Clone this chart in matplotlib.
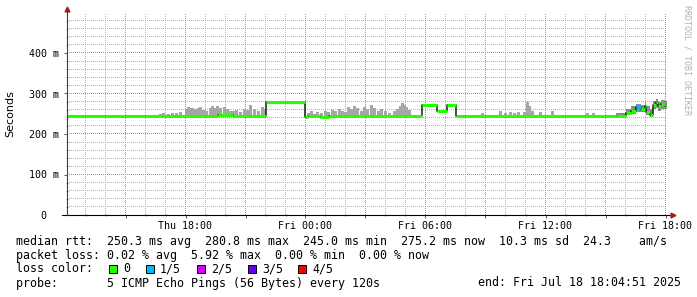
import numpy as np
import matplotlib
matplotlib.use("Agg")
import matplotlib.pyplot as plt
from matplotlib.patches import Rectangle

# time axis in hours counted from Thu 00:00, graph ends Fri 18:04:51
t_start = 12.075
t_end = 42.075

# median rtt (ms) as steps, each value holds until the next time
med_t = [12.075, 19.65, 20.4, 22.0, 24.0, 24.1, 24.75, 25.2, 29.85, 30.6, 31.1, 31.55,
         39.55, 40.0, 40.25, 40.5, 40.75, 40.95, 41.05, 41.2, 41.35, 41.5, 41.65, 41.8, 41.95]
med_v = [244, 247, 244, 278, 241, 244, 242, 244, 271, 257, 271, 244,
         245, 252, 258, 266, 262, 270, 255, 248, 272, 278, 268, 275, 270]
# lost pings (out of 5) for each step
med_loss = [0, 0, 0, 0, 0, 0, 0, 0, 0, 0, 0, 0,
            0, 0, 0, 1, 0, 0, 0, 0, 0, 0, 0, 0, 0]

# smoke spikes: hour and top of the smoke in ms
smoke_t = [16.75, 16.9, 17.15, 17.35, 17.55, 17.75, 18.05, 18.15, 18.25, 18.35, 18.5, 18.65,
           18.75, 18.9, 19.05, 19.25, 19.35, 19.45, 19.6, 19.75, 19.95, 20.1, 20.25, 20.4,
           20.55, 20.75, 20.95, 21.1, 21.25, 21.45, 21.65, 21.85, 21.95,
           24.15, 24.3, 24.45, 24.6, 24.8, 25.0, 25.15, 25.35, 25.5, 25.7, 25.85, 26.0,
           26.15, 26.3, 26.45, 26.6, 26.8, 26.95, 27.1, 27.3, 27.45, 27.65, 27.8, 28.0,
           28.2, 28.45, 28.6, 28.75, 28.85, 28.95, 29.05, 29.2,
           32.85, 33.75, 34.0, 34.25, 34.45, 34.65, 34.95, 35.1, 35.2, 35.35, 35.75, 36.35,
           38.1, 38.4]
smoke_top = [250, 252, 250, 253, 251, 254, 262, 266, 263, 265, 261, 264,
             266, 259, 256, 264, 268, 265, 270, 263, 266, 262, 258, 256,
             260, 254, 262, 260, 271, 262, 258, 266, 262,
             252, 256, 250, 255, 252, 258, 255, 260, 257, 262, 258, 254,
             266, 262, 270, 264, 258, 266, 262, 271, 264, 258, 262, 256,
             252, 258, 262, 270, 276, 272, 266, 260,
             252, 257, 252, 255, 252, 255, 254, 279, 268, 258, 255, 256,
             253, 252]

# noisy end of the graph: smoke band low / high (ms)
end_t = [39.4, 39.55, 40.0, 40.25, 40.5, 40.75, 40.95, 41.05, 41.2, 41.35, 41.5,
         41.65, 41.8, 41.95, 42.075]
end_lo = [243, 242, 246, 250, 254, 254, 258, 248, 243, 262, 264, 258, 262, 262, 262]
end_hi = [248, 252, 262, 268, 275, 272, 280, 270, 262, 282, 286, 280, 284, 282, 282]

xtick_hours = [18, 24, 30, 36, 42]
xtick_labels = ["Thu 18:00", "Fri 00:00", "Fri 06:00", "Fri 12:00", "Fri 18:00"]
ytick_vals = [0, 100, 200, 300, 400]
ytick_labels = ["0  ", "100 m", "200 m", "300 m", "400 m"]

loss_labels = ["0", "1/5", "2/5", "3/5", "4/5"]
loss_colors = ["#26ff00", "#00b8ff", "#d400ff", "#5e00ff", "#ff0000"]

stats_line = "median rtt:  250.3 ms avg  280.8 ms max  245.0 ms min  275.2 ms now  10.3 ms sd  24.3    am/s"
loss_line = "packet loss: 0.02 % avg  5.92 % max  0.00 % min  0.00 % now"
probe_line = "probe:       5 ICMP Echo Pings (56 Bytes) every 120s"
end_line = "end: Fri Jul 18 18:04:51 2025"

W, H = 697, 297
plt.rcParams['font.family'] = ['DejaVu Sans Mono', 'DejaVu Sans']

# plot box in pixels
PX_L, PX_B, PX_W, PX_H = 67, 82, 600, 202
PX_PER_H = PX_W / (t_end - t_start)
PX_PER_MS = 0.405
y_top = PX_H / PX_PER_MS


def fx(x):
    return x / W


def fy(y):
    return 1 - y / H


def median_at(t):
    i = np.searchsorted(med_t, t, side='right') - 1
    return med_v[i]


fig = plt.figure(figsize=(W / 100, H / 100), dpi=100)
fig.patch.set_facecolor('white')
ax = fig.add_axes([PX_L / W, PX_B / H, PX_W / W, PX_H / H])
ax.set_xlim(t_start, t_end)
ax.set_ylim(0, y_top)
for s in ax.spines.values():
    s.set_visible(False)

# ticks
major_x = list(range(15, 43, 3))
minor_x = [h for h in range(13, 43) if h % 3]
major_y = [100, 200, 300, 400]
minor_y = [v for v in range(20, 500, 20) if v % 100]
ax.set_xticks(major_x)
ax.set_xticklabels([xtick_labels[xtick_hours.index(h)] if h in xtick_hours else "" for h in major_x])
ax.set_xticks(minor_x, minor=True)
ax.set_yticks(ytick_vals)
ax.set_yticklabels(ytick_labels)
ax.set_yticks(minor_y, minor=True)
ax.tick_params(axis='both', which='major', labelsize=7.2, length=2.5, width=0.7,
               color='#555555', direction='out')
ax.tick_params(axis='both', which='minor', length=1.5, width=0.7, color='#888888', direction='inout')
ax.tick_params(axis='x', pad=2)
ax.tick_params(axis='y', pad=3)

# dotted grid (1 px on / 1 px off) painted as a pixel image behind the data
grid = np.zeros((PX_H, PX_W, 4))
minor_rgba = (0.70, 0.70, 0.70, 1.0)
major_rgba = (0.95, 0.42, 0.42, 1.0)
for hours, vals, rgba in [(minor_x, minor_y, minor_rgba), (major_x, major_y, major_rgba)]:
    for h in hours:
        c = int((h - t_start) * PX_PER_H)
        grid[::2, c] = rgba
    for v in vals:
        r = int(v * PX_PER_MS)
        if r < PX_H:
            grid[r, ::2] = rgba
ax.imshow(grid, extent=(t_start, t_end, 0, y_top), origin='lower', interpolation='nearest',
          aspect='auto', zorder=1)

# smoke
bases = [median_at(t) for t in smoke_t]
ax.bar(smoke_t, np.array(smoke_top) - np.array(bases), bottom=bases, width=0.16,
       color='#a6a6a6', linewidth=0, zorder=2)
ax.fill_between(end_t, end_lo, end_hi, step='post', color='#8c8c8c', linewidth=0, zorder=2)

# median line: dark steps, coloured by loss
ax.step(med_t + [t_end], med_v + [med_v[-1]], where='post', color='#1a1a1a', lw=1.1, zorder=3)
seg_end = med_t[1:] + [t_end]
for t0, t1, v, l in zip(med_t, seg_end, med_v, med_loss):
    ax.hlines(v, t0, t1, color=loss_colors[l], lw=2.2, zorder=4)

# axis lines with arrows
ax.plot([-5 / PX_W, 603 / PX_W], [0, 0], transform=ax.transAxes, color='black', lw=0.8,
        clip_on=False, zorder=5)
ax.plot([0, 0], [0, 1.01], transform=ax.transAxes, color='#404040', lw=0.8, clip_on=False, zorder=5)
ax.plot([606 / PX_W], [0], transform=ax.transAxes, marker='>', color='#a02020', ms=3.5,
        clip_on=False, zorder=6)
ax.plot([0], [1 + 4 / PX_H], transform=ax.transAxes, marker='^', color='#a02020', ms=3.5,
        clip_on=False, zorder=6)

# y label and watermark
fig.text(fx(10), fy(114), "Seconds", rotation=90, ha='center', va='center',
         fontsize=8, family='DejaVu Sans')
fig.text(fx(687), fy(60), "RRDTOOL / TOBI OETIKER", rotation=270, ha='center', va='center',
         fontsize=6, color='#b0b0b0')

# legend
fs = 8.4
fig.text(fx(16), fy(241), stats_line, ha='left', va='center', fontsize=fs)
fig.text(fx(16), fy(255), loss_line, ha='left', va='center', fontsize=fs)
fig.text(fx(16), fy(269), "loss color:", ha='left', va='center', fontsize=fs)
box_x = [109, 146, 197, 248, 298]
for bx, lab, c in zip(box_x, loss_labels, loss_colors):
    fig.add_artist(Rectangle((fx(bx), fy(273)), 8 / W, 8 / H, transform=fig.transFigure,
                             facecolor=c, edgecolor='black', lw=0.7))
    fig.text(fx(bx + 14), fy(269), lab, ha='left', va='center', fontsize=fs)
fig.text(fx(16), fy(283), probe_line, ha='left', va='center', fontsize=fs)
fig.text(fx(681), fy(283), end_line, ha='right', va='center', fontsize=fs)

fig.savefig('out.png', dpi=100, facecolor='white')
